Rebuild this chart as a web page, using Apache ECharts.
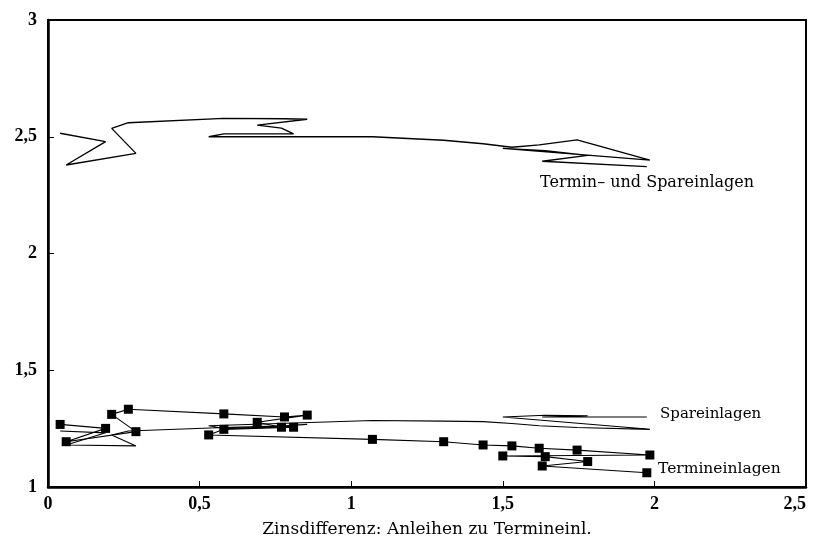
<!DOCTYPE html>
<html><head><meta charset="utf-8">
<script src="https://cdn.jsdelivr.net/npm/echarts@6/dist/echarts.min.js"></script>
<style>html,body{margin:0;padding:0;background:#fff}#c{width:814px;height:538px}</style>
</head><body><div id="c"></div>
<script>
// Zinsdifferenz (shared x values, time path)
var zinsDiff = [0.04, 0.19, 0.06, 0.29, 0.21, 0.265, 0.58, 0.78, 0.855, 0.69, 0.77, 0.81, 0.58, 0.53, 1.07, 1.305, 1.435, 1.53, 1.62, 1.745, 1.985, 1.5, 1.64, 1.78, 1.63, 1.975];
var terminUndSpar = [2.515, 2.479, 2.379, 2.429, 2.536, 2.56, 2.579, 2.577, 2.575, 2.55, 2.537, 2.512, 2.512, 2.50, 2.50, 2.485, 2.47, 2.455, 2.465, 2.487, 2.40, 2.45, 2.44, 2.42, 2.395, 2.372];
var spareinlagen = [1.24, 1.232, 1.18, 1.176, 1.223, 1.24, 1.255, 1.262, 1.268, 1.255, 1.262, 1.258, 1.25, 1.262, 1.285, 1.282, 1.28, 1.272, 1.262, 1.255, 1.247, 1.30, 1.307, 1.305, 1.30, 1.30];
var termineinlagen = [1.268, 1.251, 1.194, 1.237, 1.311, 1.333, 1.313, 1.30, 1.308, 1.277, 1.256, 1.256, 1.247, 1.223, 1.204, 1.194, 1.18, 1.176, 1.166, 1.158, 1.137, 1.133, 1.13, 1.109, 1.09, 1.061];
var seriesNames = ['Termin\u2013 und Spareinlagen', 'Spareinlagen', 'Termineinlagen'];
var xAxisTitle = 'Zinsdifferenz: Anleihen zu Termineinl.';

function pairs(ys){ return zinsDiff.map(function(x,i){ return [x, ys[i]]; }); }
function fmt(v){ return String(v).replace('.', ','); }

var chart = echarts.init(document.getElementById('c'));
var serif = 'Liberation Serif';
chart.setOption({
  animation: false,
  grid: {left: 48, right: 8, top: 20, bottom: 51, show: true, borderColor: '#000', borderWidth: 2, backgroundColor: '#fff',
         containLabel: false, outerBoundsMode: 'none'},
  xAxis: {
    type: 'value', min: 0, max: 2.5, interval: 0.5,
    axisLine: {lineStyle: {color: '#000', width: 2.5}},
    axisTick: {inside: true, length: 6, lineStyle: {color: '#000', width: 1}},
    splitLine: {show: false},
    axisLabel: {formatter: fmt, color: '#000', fontFamily: serif, fontSize: 18, fontWeight: 'bold', margin: 8,
                alignMaxLabel: 'right'},
    name: xAxisTitle, nameLocation: 'middle', nameGap: 34,
    nameTextStyle: {color: '#000', fontFamily: 'DejaVu Serif', fontSize: 17}
  },
  yAxis: {
    type: 'value', min: 1, max: 3, interval: 0.5,
    axisLine: {lineStyle: {color: '#000', width: 2.5}},
    axisTick: {inside: true, length: 6, lineStyle: {color: '#000', width: 1}},
    splitLine: {show: false},
    axisLabel: {formatter: fmt, color: '#000', fontFamily: serif, fontSize: 18, fontWeight: 'bold', margin: 11}
  },
  series: [
    {name: seriesNames[0], type: 'line', data: pairs(terminUndSpar), showSymbol: false, symbol: 'none',
     lineStyle: {color: '#000', width: 1.3}},
    {name: seriesNames[1], type: 'line', data: pairs(spareinlagen), showSymbol: false, symbol: 'none',
     lineStyle: {color: '#000', width: 1.1}},
    {name: seriesNames[2], type: 'line', data: pairs(termineinlagen), symbol: 'rect', symbolSize: 9,
     itemStyle: {color: '#000'}, lineStyle: {color: '#000', width: 1.1}}
  ],
  graphic: [
    {type: 'text', left: 540, top: 175, style: {text: seriesNames[0], font: '16px "DejaVu Serif"', fill: '#000'}},
    {type: 'text', left: 660, top: 407, style: {text: seriesNames[1], font: '15px "DejaVu Serif"', fill: '#000'}},
    {type: 'text', left: 658, top: 461, style: {text: seriesNames[2], font: '15.5px "DejaVu Serif"', fill: '#000'}}
  ]
});
</script></body></html>
